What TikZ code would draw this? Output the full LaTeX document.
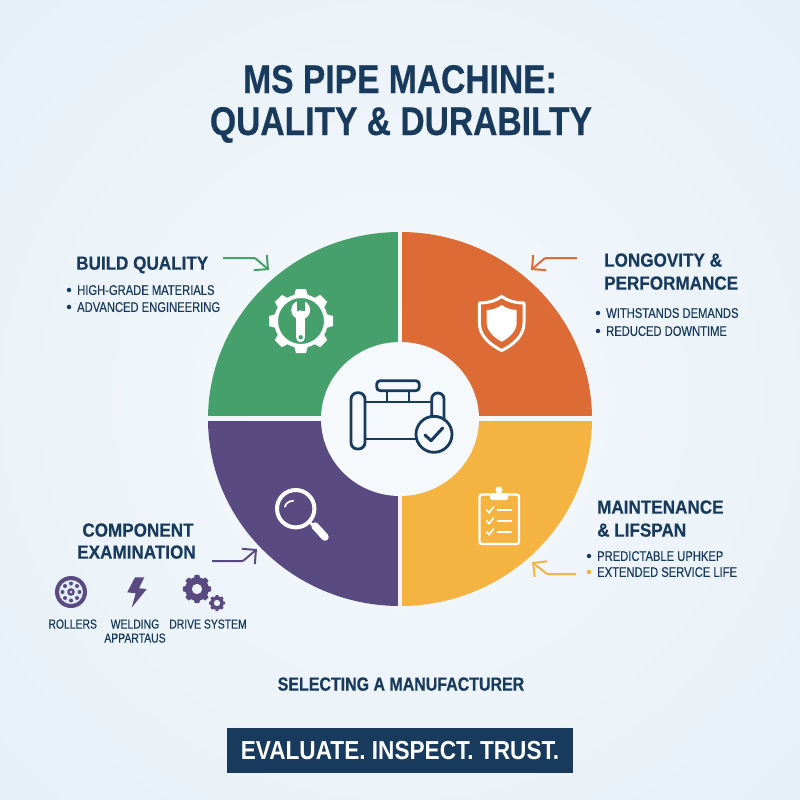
\documentclass[tikz,border=0pt]{standalone}
\usepackage{fontspec}
\setmainfont{Liberation Sans}
\newfontfamily\narrowfont[FakeStretch=0.84, BoldFeatures={FakeBold=0.5}]{Liberation Sans}
\newfontfamily\headfont[FakeStretch=0.90, BoldFeatures={FakeBold=0.3}]{Liberation Sans}
\newfontfamily\slimfont[FakeStretch=0.80, FakeBold=0.35]{Liberation Sans}
\newfontfamily\bannerfont[FakeStretch=0.87]{Liberation Sans}
\usetikzlibrary{arrows.meta}
\definecolor{navy}{HTML}{183A5C}
\definecolor{leafgreen}{HTML}{45A06C}
\definecolor{rust}{HTML}{DC6B35}
\definecolor{violet}{HTML}{5A4A82}
\definecolor{amber}{HTML}{F5B342}
\definecolor{paleblue}{HTML}{E0ECF5}
\definecolor{palecore}{HTML}{F5F9FC}
\tikzset{
    titletext/.style={text=navy, anchor=base, font=\narrowfont\fontsize{40}{40}\bfseries\selectfont, inner sep=0},
    headtext/.style={text=navy, anchor=west, text depth=0, font=\headfont\fontsize{19}{19}\bfseries\selectfont, inner sep=0},
    itemtext/.style={text=navy, anchor=west, text depth=0, font=\slimfont\fontsize{14}{14}\selectfont, inner sep=0},
    smalltext/.style={text=navy, text depth=0, font=\slimfont\fontsize{13}{13}\selectfont, inner sep=0},
    bulletdot/.style={circle, fill=navy, inner sep=0, minimum size=4.5},
    callout/.style={line width=2, -{Straight Barb[length=10, width=20, angle'=90]}, rounded corners=1},
    pipeline/.style={draw=navy, line width=2.8, line join=round},
    pics/gearwheel/.style={code={
        \fill[even odd rule] (0,0) circle (27) (0,0) circle (#1);
        \foreach \a in {0,45,...,315}
            \fill[rotate=\a] (-7,25) -- (-5,32) -- (5,32) -- (7,25) -- cycle;
    }}
}
\begin{document}
\begin{tikzpicture}[x=1pt, y=-1pt]
    \useasboundingbox (0,0) rectangle (800,800);
    \begin{scope}
        \clip (0,0) rectangle (800,800);
        \shade[inner color=palecore, outer color=paleblue] (-400,-400) rectangle (1200,1200);
    \end{scope}

    % title
    \node[titletext] (titleone) at (400,93) {MS PIPE MACHINE:};
    \node[titletext] (titletwo) at (401,135) {QUALITY \& DURABILTY};

    % wheel
    \begin{scope}
        \clip (400,419) ellipse [x radius=192, y radius=187];
        \fill[leafgreen] (190,225) rectangle (397.7,416);
        \fill[rust] (402.3,225) rectangle (610,416);
        \fill[violet] (190,421) rectangle (397.7,615);
        \fill[amber] (402.3,421) rectangle (610,615);
    \end{scope}
    \fill[palecore] (400,419) ellipse [x radius=79, y radius=77];

    % pipe in the middle
    \draw[pipeline, rounded corners=3.5] (376.7,380.7) rectangle (419.3,390.7);
    \draw[pipeline] (387,390.7) -- (387,402) (409,390.7) -- (409,402);
    \draw[pipeline] (365,402) -- (431.7,402) (365,439) -- (420,439);
    \draw[pipeline, rounded corners=6.5] (351,392.7) rectangle (365,449);
    \draw[pipeline, rounded corners=6] (431.7,420) -- (431.7,393) -- (444,393) -- (444,420);
    \draw[pipeline, fill=palecore] (434,434.3) circle (18);
    \draw[pipeline, line cap=round, line width=3] (425,435) -- (431,440.7) -- (442.7,428);

    % gear and wrench
    \pic[white] at (301,321) {gearwheel=23};
    \fill[white] (300.7,310) circle (9.5);
    \fill[leafgreen] (296.5,300) rectangle (305,311);
    \draw[white, line width=9.5, line cap=round] (300.7,315) -- (300.7,337.3);
    \fill[leafgreen] (300.7,337.3) circle (2.2);

    % shield
    \draw[white, line width=3, line join=round] (501.7,296.5) .. controls (508,301) and (516,303) .. (524,303)
        -- (524,323) .. controls (524,336) and (513,345) .. (501.7,350.5)
        .. controls (490.4,345) and (479.4,336) .. (479.4,323) -- (479.4,303)
        .. controls (487.4,303) and (495.4,301) .. (501.7,296.5) -- cycle;
    \fill[white] (501.7,305) .. controls (506,308) and (511,310) .. (516.7,310)
        -- (516.7,323) .. controls (516.7,331) and (509,338) .. (501.7,341.7)
        .. controls (494.4,338) and (486.7,331) .. (486.7,323) -- (486.7,310)
        .. controls (492.4,310) and (497.4,308) .. (501.7,305) -- cycle;

    % magnifier
    \draw[white, line width=4] (295.7,508.7) circle (18.7);
    \draw[white, line width=2.5] (309,522) -- (317,528);
    \draw[white, line width=7.5, line cap=round] (315,526) -- (325,537);
    \draw[white, line width=1.8, line cap=round] (285,506.7) .. controls (285.5,503.5) and (289,501) .. (293.3,500.7);

    % clipboard
    \draw[white, line width=2.4, rounded corners=2.5] (490,494.5) -- (479.5,494.5) -- (479.5,544) -- (519,544) -- (519,494.5) -- (508,494.5);
    \fill[white, rounded corners=1.5] (490,493) rectangle (508,500);
    \fill[white] (499,490) circle (3.5);
    \foreach \r in {510,521,532} {
        \draw[white, line width=1.7, line cap=round] (486.7,\r) -- (489.2,\r+2.5) -- (493.5,\r-3);
        \draw[white, line width=1.7, line cap=round] (497.5,\r) -- (511.5,\r);
    }

    % build quality
    \node[headtext] (buildhead) at (76,263) {BUILD QUALITY};
    \node[bulletdot] (builddotone) at (69,290) {};
    \node[bulletdot] (builddottwo) at (69,307) {};
    \node[itemtext] (builditemone) at (77,290) {HIGH-GRADE MATERIALS};
    \node[itemtext] (builditemtwo) at (77,307) {ADVANCED ENGINEERING};
    \coordinate (buildstart) at (223,258);
    \coordinate (buildbend) at (255,258);
    \coordinate (buildtip) at (269,270);
    \draw[callout, leafgreen] (buildstart) -- (buildbend) -- (buildtip);

    % longevity
    \node[headtext] (longheadone) at (604,260) {LONGOVITY \&};
    \node[headtext] (longheadtwo) at (604,283) {PERFORMANCE};
    \node[bulletdot] (longdotone) at (598,313) {};
    \node[bulletdot] (longdottwo) at (598,331) {};
    \node[itemtext] (longitemone) at (606,313) {WITHSTANDS DEMANDS};
    \node[itemtext] (longitemtwo) at (606,331) {REDUCED DOWNTIME};
    \coordinate (longstart) at (577,258);
    \coordinate (longbend) at (545,258);
    \coordinate (longtip) at (531,270);
    \draw[callout, rust] (longstart) -- (longbend) -- (longtip);

    % maintenance
    \node[headtext] (mainheadone) at (597,507) {MAINTENANCE};
    \node[headtext] (mainheadtwo) at (597,530) {\& LIFSPAN};
    \node[bulletdot] (maindotone) at (589,556) {};
    \node[bulletdot, fill=amber] (maindottwo) at (589,572) {};
    \node[itemtext] (mainitemone) at (597,556) {PREDICTABLE UPHKEP};
    \node[itemtext] (mainitemtwo) at (597,572) {EXTENDED SERVICE LIFE};
    \coordinate (mainstart) at (576,574);
    \coordinate (mainbend) at (547,574);
    \coordinate (maintip) at (532,562);
    \draw[callout, amber] (mainstart) -- (mainbend) -- (maintip);

    % component examination
    \node[headtext, anchor=center] (compheadone) at (138,530) {COMPONENT};
    \node[headtext, anchor=center] (compheadtwo) at (136.5,552) {EXAMINATION};
    \coordinate (compstart) at (212,561);
    \coordinate (compbend) at (243,561);
    \coordinate (comptip) at (257,549);
    \draw[callout, violet] (compstart) -- (compbend) -- (comptip);

    % roller
    \fill[violet] (71,592) circle (16);
    \fill[paleblue] (71,592) circle (12);
    \foreach \a in {0,45,...,315}
        \fill[violet] (71,592) ++(\a:8.5) circle (2);
    \fill[violet] (71,592) circle (3.8);
    \fill[paleblue] (71,592) circle (1.4);
    % bolt
    \fill[violet] (135,577.3) -- (144.3,577.3) -- (139,588.3) -- (146.7,589) -- (131.7,607.7) -- (135.7,593.3) -- (127.3,592.3) -- cycle;
    % gears
    \pic[violet, scale=0.44] at (197,589) {gearwheel=12};
    \pic[violet, scale=0.25] at (217,603) {gearwheel=13};

    \node[smalltext] (rollerlabel) at (72.7,624) {ROLLERS};
    \node[smalltext] (weldlabelone) at (135,624) {WELDING};
    \node[smalltext] (weldlabeltwo) at (135,638) {APPARTAUS};
    \node[smalltext] (drivelabel) at (208,624) {DRIVE SYSTEM};

    % bottom
    \node[text=navy, text depth=0, font=\narrowfont\fontsize{19}{19}\bfseries\selectfont, inner sep=0] (selectlabel) at (401,684) {SELECTING A MANUFACTURER};
    \node[fill=navy, text=white, text depth=0, font=\bannerfont\fontsize{26}{26}\bfseries\selectfont, minimum width=346, minimum height=45, inner sep=0] (banner) at (400,750) {EVALUATE. INSPECT. TRUST.};
\end{tikzpicture}
\end{document}
